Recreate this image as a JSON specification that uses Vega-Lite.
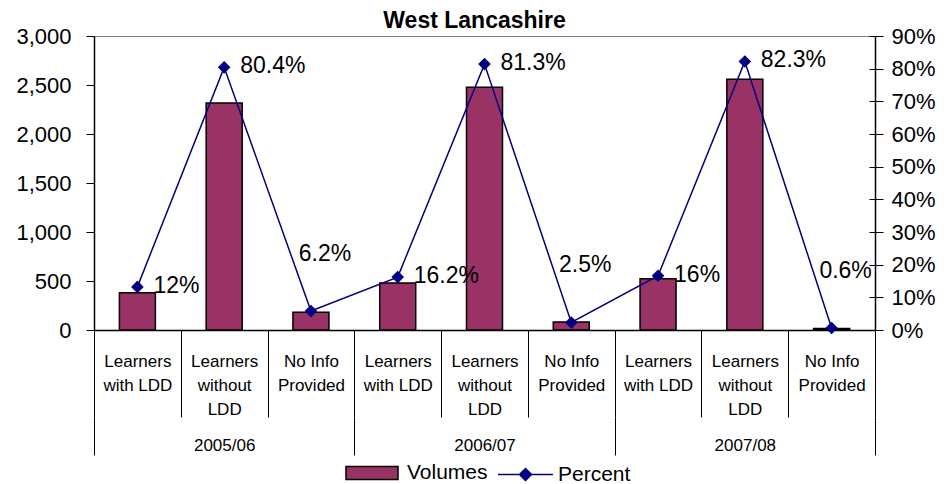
{
  "$schema": "https://vega.github.io/schema/vega-lite/v6.json",
  "width": 781,
  "height": 294,
  "autosize": {"type": "none"},
  "padding": {"left": 94, "top": 36, "right": 71, "bottom": 154},
  "title": {"text": "West Lancashire", "fontSize": 23, "fontWeight": "bold", "font": "Liberation Sans", "anchor": "middle", "frame": "group", "dx": -10, "offset": -8, "color": "black"},
  "config": {
    "font": "Liberation Sans",
    "view": {"stroke": "#808080", "strokeWidth": 1},
    "axis": {"grid": false, "domainColor": "black", "tickColor": "black", "labelColor": "black", "labelFont": "Liberation Sans", "domainWidth": 1.5, "tickWidth": 1},
    "legend": {"labelFont": "Liberation Sans", "labelFontSize": 21, "labelColor": "black", "title": null}
  },
  "data": {"values": [
    {"cat": "2005/06~Learners~with LDD", "year": "2005/06", "grp": "Learners with LDD", "volume": 381, "pct": 0.132, "label": "12%"},
    {"cat": "2005/06~Learners~without~LDD", "year": "2005/06", "grp": "Learners without LDD", "volume": 2316, "pct": 0.804, "label": "80.4%"},
    {"cat": "2005/06~No Info~Provided", "year": "2005/06", "grp": "No Info Provided", "volume": 181, "pct": 0.058, "label": "6.2%"},
    {"cat": "2006/07~Learners~with LDD", "year": "2006/07", "grp": "Learners with LDD", "volume": 480, "pct": 0.162, "label": "16.2%"},
    {"cat": "2006/07~Learners~without~LDD", "year": "2006/07", "grp": "Learners without LDD", "volume": 2477, "pct": 0.814, "label": "81.3%"},
    {"cat": "2006/07~No Info~Provided", "year": "2006/07", "grp": "No Info Provided", "volume": 82, "pct": 0.023, "label": "2.5%"},
    {"cat": "2007/08~Learners~with LDD", "year": "2007/08", "grp": "Learners with LDD", "volume": 523, "pct": 0.166, "label": "16%"},
    {"cat": "2007/08~Learners~without~LDD", "year": "2007/08", "grp": "Learners without LDD", "volume": 2558, "pct": 0.822, "label": "82.3%"},
    {"cat": "2007/08~No Info~Provided", "year": "2007/08", "grp": "No Info Provided", "volume": 16, "pct": 0.006, "label": "0.6%"}
  ]},
  "layer": [
    {
      "layer": [
        {
          "mark": {"type": "bar", "width": 36, "stroke": "black", "strokeWidth": 1.5},
          "encoding": {
            "x": {"field": "cat", "type": "nominal", "sort": null, "scale": {"type": "band", "paddingInner": 0, "paddingOuter": 0},
              "axis": {"orient": "bottom", "title": null, "tickBand": "extent", "tickSize": 87, "labelExpr": "slice(split(datum.label, '~'), 1)", "labelFontSize": 17, "labelLineHeight": 24, "labelBaseline": "alphabetic", "labelPadding": -51, "labelAngle": 0, "labelOverlap": false, "labelBound": false, "labelLimit": 0}},
            "y": {"field": "volume", "type": "quantitative", "scale": {"domain": [0, 3000], "nice": false},
              "axis": {"orient": "left", "title": null, "values": [0, 500, 1000, 1500, 2000, 2500, 3000], "format": ",.0f", "labelFontSize": 22, "tickSize": 8, "labelPadding": 15, "labelOverlap": false}},
            "fill": {"datum": "Volumes", "scale": {"range": ["#993366"]},
              "legend": {"orient": "none", "legendX": 251, "legendY": 410, "symbolType": "M-1,-0.25H1V0.25H-1Z", "symbolSize": 2704, "symbolStrokeColor": "black", "symbolStrokeWidth": 1.5, "labelOffset": 8}}
          }
        },
        {
          "layer": [
            {
              "mark": {"type": "line", "strokeWidth": 1.5},
              "encoding": {
                "x": {"field": "cat", "type": "nominal", "sort": null},
                "y": {"field": "pct", "type": "quantitative", "scale": {"domain": [0, 0.9], "nice": false},
                  "axis": {"orient": "right", "title": null, "values": [0, 0.1, 0.2, 0.3, 0.4, 0.5, 0.6, 0.7, 0.8, 0.9], "format": ".0%", "labelFontSize": 22, "tickSize": 8, "labelPadding": 8, "labelOverlap": false}},
                "stroke": {"datum": "Percent", "scale": {"range": ["#000080"]},
                  "legend": {"orient": "none", "legendX": 403, "legendY": 410, "symbolType": "M-1,0H1M-0.22,0L0,-0.22L0.22,0L0,0.22Z", "symbolSize": 3025, "symbolStrokeWidth": 1.5, "labelOffset": 4,
                    "encode": {"symbols": {"update": {"fill": {"value": "#000080"}, "stroke": {"value": "#000080"}}}}}}
              }
            },
            {
              "mark": {"type": "point", "shape": "diamond", "filled": true, "size": 160, "color": "#000080", "opacity": 1},
              "encoding": {
                "x": {"field": "cat", "type": "nominal", "sort": null},
                "y": {"field": "pct", "type": "quantitative", "scale": {"domain": [0, 0.9], "nice": false},
                  "axis": {"orient": "right", "title": null, "values": [0, 0.1, 0.2, 0.3, 0.4, 0.5, 0.6, 0.7, 0.8, 0.9], "labels": false, "domain": false, "tickSize": -6}}
              }
            },
            {
              "transform": [{"filter": "datum.grp != 'No Info Provided'"}],
              "mark": {"type": "text", "align": "left", "baseline": "middle", "dx": 16, "dy": -1, "fontSize": 23, "color": "black"},
              "encoding": {
                "x": {"field": "cat", "type": "nominal", "sort": null},
                "y": {"field": "pct", "type": "quantitative", "scale": {"domain": [0, 0.9], "nice": false}, "axis": null},
                "text": {"field": "label"}
              }
            },
            {
              "transform": [{"filter": "datum.grp == 'No Info Provided'"}],
              "mark": {"type": "text", "align": "center", "baseline": "middle", "dx": 14, "dy": -57, "fontSize": 23, "color": "black"},
              "encoding": {
                "x": {"field": "cat", "type": "nominal", "sort": null},
                "y": {"field": "pct", "type": "quantitative", "scale": {"domain": [0, 0.9], "nice": false}, "axis": null},
                "text": {"field": "label"}
              }
            }
          ],
          "resolve": {"scale": {"y": "independent"}}
        }
      ],
      "resolve": {"scale": {"y": "independent"}}
    },
    {
      "data": {"values": [{"year": "2005/06"}, {"year": "2006/07"}, {"year": "2007/08"}]},
      "mark": {"type": "rule", "opacity": 0},
      "encoding": {
        "x": {"field": "year", "type": "nominal", "sort": null, "scale": {"type": "band", "paddingInner": 0, "paddingOuter": 0},
          "axis": {"orient": "bottom", "offset": 87, "title": null, "domain": false, "tickBand": "extent", "tickSize": 38, "labelFontSize": 17, "labelBaseline": "alphabetic", "labelPadding": -5, "labelAngle": 0}}
      }
    }
  ],
  "resolve": {"scale": {"x": "independent", "y": "independent"}}
}
